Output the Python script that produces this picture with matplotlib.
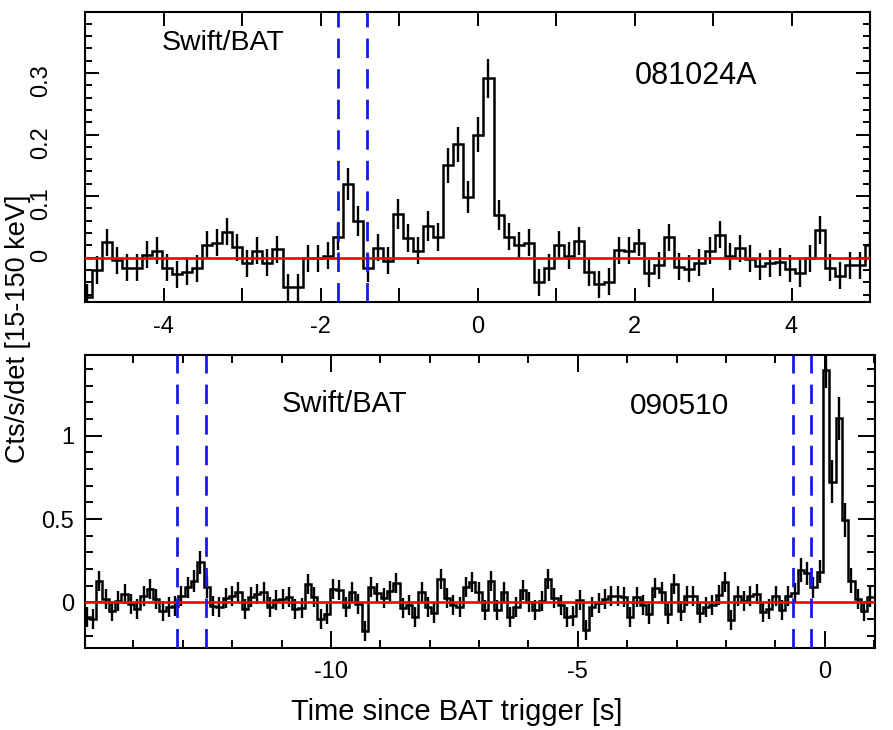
import numpy as np
import matplotlib
matplotlib.use('Agg')
import matplotlib.pyplot as plt
from matplotlib.ticker import MultipleLocator, FuncFormatter

plt.rcParams['font.family'] = ['Liberation Sans', 'DejaVu Sans']

# ------------------------------
# Light curve data (128 ms bins)
# ------------------------------
BIN = 0.128

# GRB 081024A, first bin starts at -5.044 s
top_t0 = -5.044
top_rate = [
    -0.064, -0.020, 0.025, -0.004, -0.016, -0.016, 0.005, 0.011, -0.016, -0.027,
    -0.023, -0.017, 0.021, 0.024, 0.042, 0.017, -0.009, 0.011, -0.008, 0.014,
    -0.048, -0.048, -0.001, -0.001, 0.003, 0.034, 0.119, 0.060, -0.017, 0.016,
    -0.005, 0.071, 0.032, 0.011, 0.051, 0.034, 0.150, 0.184, 0.098, 0.200,
    0.291, 0.069, 0.034, 0.020, 0.024, -0.040, -0.016, 0.021, 0.003, 0.027,
    -0.024, -0.043, -0.039, 0.012, 0.011, 0.024, -0.025, -0.012, 0.033, -0.015,
    -0.018, -0.008, 0.011, 0.037, 0.002, 0.015, -0.002, -0.014, -0.009, -0.007,
    -0.018, -0.025, -0.001, 0.045, -0.016, -0.029, -0.012, -0.012, 0.021,
]
top_err = ([0.022] * 26 + [0.026, 0.024, 0.022, 0.022, 0.022, 0.024, 0.023, 0.022,
           0.024, 0.023, 0.028, 0.029, 0.026, 0.029, 0.031, 0.024]
           + [0.022] * 37)
top_lines = [-1.78, -1.405]

# GRB 090510, first bin starts at -15.01 s
bot_t0 = -15.01
bot_rate = [
    -0.09, -0.10, 0.13, 0.02, -0.05, 0.01, 0.05, -0.01, -0.04, 0.04,
    0.08, 0.02, -0.05, -0.03, -0.02, 0.04, 0.09, 0.13, 0.24, 0.09,
    -0.02, -0.03, 0.025, 0.04, 0.06, -0.04, 0.03, 0.05, 0.06, -0.025,
    0.015, 0.02, 0.03, -0.04, -0.035, 0.11, 0.035, -0.10, -0.07, 0.08,
    0.075, -0.03, 0.06, -0.01, -0.17, 0.095, 0.055, 0.025, 0.07, 0.115,
    -0.035, -0.015, -0.085, 0.06, -0.025, -0.065, 0.14, 0.025, -0.015, -0.03,
    0.095, 0.125, 0.065, -0.045, 0.13, -0.045, 0.065, -0.085, -0.03, 0.075,
    0.005, -0.045, 0.01, 0.14, 0.025, -0.015, -0.085, -0.08, 0.015, -0.165,
    -0.03, -0.005, 0.02, 0.04, 0.04, 0.035, -0.085, 0.03, -0.015, -0.07,
    0.085, 0.06, -0.07, 0.11, -0.05, 0.04, 0.04, -0.065, -0.03, -0.015,
    0.045, 0.12, -0.105, 0.04, 0.01, 0.04, 0.05, -0.055, -0.04, 0.04,
    -0.045, 0.04, 0.055, 0.195, 0.175, 0.09, 0.185, 1.394, 0.724, 1.104,
    0.494, 0.13, 0.02, -0.05, 0.03,
]
bot_err = ([0.06] * 16 + [0.062, 0.065, 0.07, 0.062] + [0.06] * 93
           + [0.07, 0.07, 0.065, 0.07, 0.11, 0.13, 0.13, 0.10, 0.075, 0.062, 0.06, 0.06])
bot_lines = [-13.12, -12.52, -0.636, -0.278]


def gfmt(v, pos):
    return '%g' % round(v, 3)


def draw_panel(ax, t0, rate, err, lines):
    rate = np.asarray(rate)
    edges = t0 + BIN * np.arange(len(rate) + 1)
    mids = 0.5 * (edges[:-1] + edges[1:])
    ax.stairs(rate, edges, baseline=None, color='k', lw=1.8, zorder=3)
    ax.errorbar(mids, rate, yerr=err, fmt='none', ecolor='k',
                elinewidth=1.7, capsize=0, zorder=3)
    ax.axhline(0, color='#ff0000', lw=1.9, zorder=4)
    for x in lines:
        ax.axvline(x, color='#1a1ae6', lw=2.0, dashes=(7, 4), zorder=5)
    for s in ax.spines.values():
        s.set_linewidth(1.5)
    ax.tick_params(which='both', direction='in', top=True, right=True,
                   width=1.4, labelsize=17)
    ax.xaxis.set_major_formatter(FuncFormatter(gfmt))
    ax.yaxis.set_major_formatter(FuncFormatter(gfmt))


fig = plt.figure(figsize=(8.93, 7.30), dpi=100)

# ==============================
# Top panel: 081024A
# ==============================
ax1 = fig.add_axes([85 / 893, 1 - 302 / 730, 785 / 893, 290 / 730])
draw_panel(ax1, top_t0, top_rate, top_err, top_lines)
ax1.set_xlim(-5, 5)
ax1.set_ylim(-0.072, 0.399)
ax1.xaxis.set_major_locator(MultipleLocator(2))
ax1.xaxis.set_minor_locator(MultipleLocator(1))
ax1.yaxis.set_major_locator(MultipleLocator(0.1))
ax1.yaxis.set_minor_locator(MultipleLocator(0.02))
ax1.tick_params(which='major', length=10)
ax1.tick_params(which='minor', length=5)
ax1.tick_params(axis='x', which='minor', length=10)
ax1.tick_params(axis='x', pad=10)
ax1.tick_params(axis='y', labelrotation=90, pad=24)
ax1.text(0.176, 0.893, 'Swift/BAT', transform=ax1.transAxes, fontsize=20.5,
         ha='center', va='center')
ax1.text(0.778, 0.78, '081024A', transform=ax1.transAxes, fontsize=22,
         ha='center', va='center')

# ==============================
# Bottom panel: 090510
# ==============================
ax2 = fig.add_axes([85 / 893, 1 - 648 / 730, 790 / 893, 293 / 730])
draw_panel(ax2, bot_t0, bot_rate, bot_err, bot_lines)
ax2.set_xlim(-14.98, 1.02)
ax2.set_ylim(-0.274, 1.484)
ax2.xaxis.set_major_locator(MultipleLocator(5))
ax2.xaxis.set_minor_locator(MultipleLocator(1))
ax2.yaxis.set_major_locator(MultipleLocator(0.5))
ax2.yaxis.set_minor_locator(MultipleLocator(0.1))
ax2.tick_params(which='major', length=12)
ax2.tick_params(which='minor', length=6)
ax2.tick_params(axis='x', pad=9)
ax2.tick_params(axis='y', pad=8)
ax2.text(0.328, 0.833, 'Swift/BAT', transform=ax2.transAxes, fontsize=21,
         ha='center', va='center')
ax2.text(0.752, 0.826, '090510', transform=ax2.transAxes, fontsize=21.5,
         ha='center', va='center')

fig.text(18 / 893, 1 - 329 / 730, 'Cts/s/det [15-150 keV]', rotation=90,
         fontsize=19.5, ha='center', va='center')
fig.text(457 / 893, 1 - 712 / 730, 'Time since BAT trigger [s]',
         fontsize=21, ha='center', va='center')

fig.savefig('out.png', dpi=100)
